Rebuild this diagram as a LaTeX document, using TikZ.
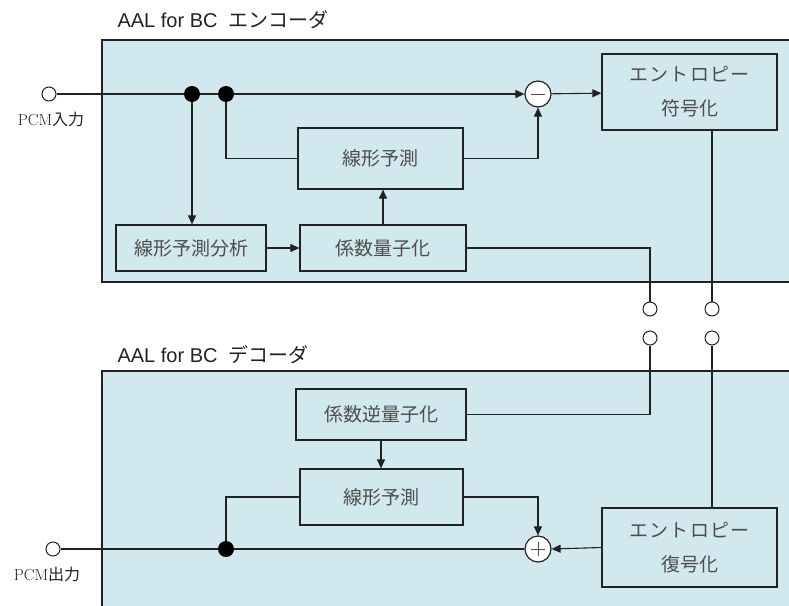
\documentclass[tikz,border=0pt]{standalone}
\usepackage{fontspec}
\newfontfamily\jp{Noto Sans CJK JP}
\newfontfamily\jpw[LetterSpace=6]{Noto Sans CJK JP}
\newfontfamily\lat{Liberation Sans}
\usetikzlibrary{arrows.meta}
\definecolor{panelblue}{HTML}{D1E9EE}
\definecolor{ink}{HTML}{222222}
\definecolor{txt}{HTML}{4D4D4D}
\tikzset{
  panel/.style={fill=panelblue, draw=ink, line width=1.2pt},
  block/.style={draw=ink, line width=1.2pt, text=txt, font=\fontsize{19}{22}\jp, align=center},
  port/.style={circle, draw=ink, fill=white, line width=1pt, inner sep=0pt, minimum size=14pt},
  dot/.style={circle, fill=black, inner sep=0pt, minimum size=16pt},
  sum/.style={circle, draw=ink, fill=white, line width=1.2pt, inner sep=0pt, minimum size=26pt},
  wire/.style={draw=ink, line width=1.1pt},
  flow/.style={wire, -{Triangle[length=9pt,width=8pt]}}
}
\begin{document}
\begin{tikzpicture}[x=1pt,y=-1pt]
\useasboundingbox (0,0) rectangle (789,605);
\clip (0,0) rectangle (789,605);
% Encoder
\draw[panel] (102,40) rectangle (800,282);
\node[anchor=west, text=ink, font=\fontsize{20}{24}\lat] (enctitle) at (114,20) {AAL for BC\ \ {\jp エンコーダ}};
\node[port] (in) at (49,94) {};
\node[font=\fontsize{16}{18}\selectfont, text=ink] (inlabel) at (51,119) {PCM{\jp 入力}};
\node[dot] (j1) at (192,94) {};
\node[dot] (j2) at (226,94) {};
\node[sum] (sub) at (538,94) {};
\draw[txt, line width=0.9pt] ([xshift=-7pt]sub.center) -- ([xshift=7pt]sub.center);
\node[block, minimum width=175pt, minimum height=76pt] (ent) at (689.5,92) {{\jpw エントロピー}\\[12pt]符号化};
\node[block, minimum width=165pt, minimum height=61pt] (lp) at (380.5,158.5) {線形予測};
\node[block, minimum width=150pt, minimum height=46pt] (lpa) at (191,248) {線形予測分析};
\node[block, minimum width=166pt, minimum height=46pt] (cq) at (383,248) {係数量子化};
\node[port] (c1) at (650,309) {};
\node[port] (c2) at (712,309) {};
% Decoder
\draw[panel] (102,371) rectangle (800,620);
\node[anchor=west, text=ink, font=\fontsize{20}{24}\lat] (dectitle) at (114,355) {AAL for BC\ \ {\jp デコーダ}};
\node[port] (c3) at (650,338) {};
\node[port] (c4) at (712,338) {};
\node[block, minimum width=170pt, minimum height=51pt] (ciq) at (381,414.5) {係数逆量子化};
\node[block, minimum width=163pt, minimum height=56pt] (lpd) at (381.5,497) {線形予測};
\node[port] (out) at (53,549) {};
\node[font=\fontsize{16}{18}\selectfont, text=ink] (outlabel) at (47,574) {PCM{\jp 出力}};
\node[dot] (j3) at (226,549) {};
\node[sum] (add) at (538,549) {};
\draw[txt, line width=0.9pt] ([xshift=-7pt]add.center) -- ([xshift=7pt]add.center)
  ([yshift=-7pt]add.center) -- ([yshift=7pt]add.center);
\node[block, minimum width=175pt, minimum height=79pt] (entd) at (689.5,547.5) {{\jpw エントロピー}\\[12pt]復号化};
% Encoder wires
\draw[wire] (in) -- (j1) -- (j2);
\draw[flow] (j2) -- (sub);
\draw[flow] (sub) -- (ent);
\draw[wire] (j2) |- (lp.west);
\draw[flow] (lp.east) -| (sub.south);
\draw[flow] (j1) -- (j1 |- lpa.north);
\draw[flow] (lpa) -- (cq);
\draw[flow] (cq.north) -- (cq.north |- lp.south);
\draw[wire] (cq.east) -| (c1.north);
\draw[wire] (ent.south -| c2) -- (c2.north);
% Decoder wires
\draw[wire] (ciq.east) -| (c3.south);
\draw[wire] (c4.south) -- (c4 |- entd.north);
\draw[flow] (ciq.south) -- (ciq.south |- lpd.north);
\draw[wire] (lpd.west) -| (j3);
\draw[wire] (add) -- (j3) -- (out);
\draw[flow] (lpd.east) -| (add.north);
\draw[flow] (entd.west) -- (add.east);
\end{tikzpicture}
\end{document}
